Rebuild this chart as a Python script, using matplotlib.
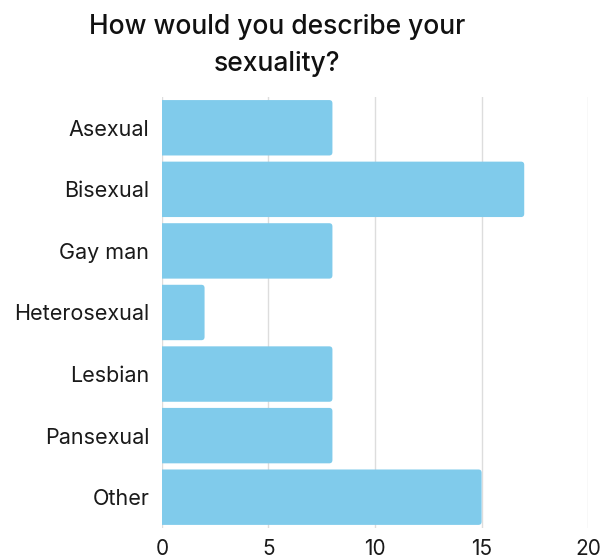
import matplotlib
matplotlib.use("Agg")
import matplotlib.pyplot as plt
from matplotlib.patches import FancyBboxPatch
import numpy as np

categories = ["Asexual", "Bisexual", "Gay man", "Heterosexual", "Lesbian", "Pansexual", "Other"]
counts = [8, 17, 8, 2, 8, 8, 15]
x_ticks = [0, 5, 10, 15, 20]

plt.rcParams["font.family"] = ["Inter", "DejaVu Sans"]

fig = plt.figure(figsize=(6.02, 5.59), dpi=100)
ax = fig.add_axes([0.269, 0.0555, 0.708, 0.771])

y = np.arange(len(categories))
bars = ax.barh(y, counts, height=0.9, color="#80cbeb", zorder=2)

# swap the plain rectangles for ones with slightly rounded corners
for b in bars:
    x0, y0 = b.get_x(), b.get_y()
    w, h = b.get_width(), b.get_height()
    rounded = FancyBboxPatch((x0 - 0.3, y0), w + 0.3, h,
                             boxstyle="round,pad=0,rounding_size=0.15",
                             mutation_aspect=0.35, facecolor="#80cbeb",
                             edgecolor="none", zorder=2)
    b.set_visible(False)
    ax.add_patch(rounded)

ax.set_xlim(0, 20)
ax.set_ylim(len(categories) - 0.5, -0.5)
ax.set_xticks(x_ticks)
ax.set_yticks(y)
ax.set_yticklabels(categories)
ax.tick_params(axis="y", length=0, labelsize=15.5, colors="#1a1a1a", pad=9)
ax.tick_params(axis="x", length=0, labelsize=15, colors="#1a1a1a", pad=8)
ax.grid(axis="x", color="#dddddd", linewidth=1, zorder=0)
for s in ax.spines.values():
    s.set_visible(False)

fig.text(0.46, 0.975, "How would you describe your\nsexuality?", fontsize=19,
         ha="center", va="top", color="#111111", linespacing=1.55, weight=500)

fig.savefig("out.png", dpi=100)
